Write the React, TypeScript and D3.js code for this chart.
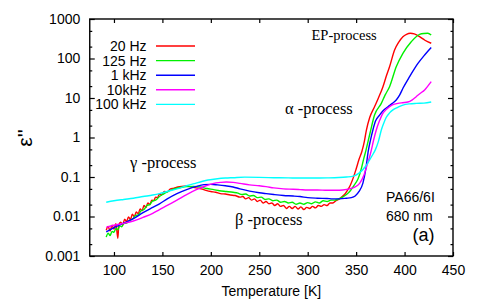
import React, { useEffect, useRef } from 'react';
import * as d3 from 'd3';

// temperature [K], eps''
const red20Hz: [number, number][] = [
  [92, 0.0045], [94, 0.0056], [96, 0.0043], [98, 0.006], [100, 0.0048], [102, 0.0066], [104, 0.0028], [105, 0.0062],
  [107, 0.0072], [109, 0.006], [111, 0.0086], [113, 0.0074], [115, 0.0098], [117, 0.0084], [119, 0.0115], [121, 0.0098],
  [123, 0.013], [125, 0.0118], [127, 0.0155], [129, 0.014], [131, 0.019], [133, 0.017], [135, 0.022], [137, 0.02],
  [139, 0.026], [141, 0.025], [143, 0.031], [145, 0.03], [147, 0.037], [149, 0.035], [152, 0.043], [155, 0.042],
  [158, 0.049], [162, 0.052], [166, 0.056], [170, 0.058], [175, 0.059], [180, 0.056], [185, 0.053], [190, 0.05],
  [195, 0.046], [200, 0.043], [205, 0.041], [210, 0.038], [215, 0.037], [220, 0.035], [225, 0.034], [230, 0.031],
  [233, 0.032], [236, 0.028], [239, 0.03], [242, 0.026], [245, 0.028], [248, 0.024], [251, 0.026], [254, 0.022],
  [257, 0.024], [260, 0.021], [263, 0.022], [266, 0.019], [269, 0.021], [272, 0.018], [275, 0.019], [278, 0.016],
  [281, 0.018], [284, 0.016], [287, 0.018], [290, 0.0155], [293, 0.0175], [296, 0.015], [299, 0.017], [302, 0.016],
  [305, 0.018], [308, 0.0165], [311, 0.019], [314, 0.018], [317, 0.02], [320, 0.019], [323, 0.022], [326, 0.022],
  [329, 0.025], [332, 0.027], [335, 0.031], [338, 0.036], [341, 0.046], [344, 0.062], [347, 0.095], [350, 0.16],
  [353, 0.28], [356, 0.45], [358.5, 0.8], [360.5, 1.5], [364, 3.2], [369, 6], [373, 10], [377.6, 19], [381, 35],
  [384.5, 62], [389.7, 164], [394, 260], [398.3, 357], [402, 410], [406, 434], [410, 420], [415.5, 357], [421, 290],
  [427.5, 243],
];

const green125Hz: [number, number][] = [
  [92, 0.003], [94, 0.0038], [96, 0.0033], [98, 0.0042], [100, 0.004], [102, 0.005], [104, 0.0046], [106, 0.0058],
  [108, 0.0055], [110, 0.0066], [113, 0.0068], [116, 0.008], [119, 0.0085], [122, 0.0105], [125, 0.011], [128, 0.014],
  [131, 0.015], [134, 0.019], [137, 0.02], [140, 0.025], [143, 0.026], [147, 0.032], [151, 0.037], [155, 0.042],
  [160, 0.048], [165, 0.052], [170, 0.055], [175, 0.057], [182, 0.058], [189, 0.056], [196, 0.051], [203, 0.048],
  [209, 0.045], [216, 0.043], [223, 0.041], [228, 0.039], [232, 0.036], [236, 0.037], [240, 0.033], [244, 0.034],
  [248, 0.03], [252, 0.031], [256, 0.027], [260, 0.028], [264, 0.025], [268, 0.026], [272, 0.023], [276, 0.024],
  [280, 0.022], [284, 0.023], [288, 0.0205], [292, 0.022], [296, 0.0205], [300, 0.0225], [304, 0.021], [308, 0.0235],
  [312, 0.022], [316, 0.025], [320, 0.024], [324, 0.026], [328, 0.026], [332, 0.028], [336, 0.031], [340, 0.036],
  [344, 0.045], [348, 0.062], [352, 0.09], [355, 0.15], [358, 0.3], [360.2, 0.48], [364.3, 1.28], [369, 3.7],
  [376, 7.3], [380, 12], [384.5, 19.3], [391.4, 62], [398.3, 135], [406.9, 266], [415.5, 410], [420, 430],
  [424, 434], [427.5, 393],
];

const blue1kHz: [number, number][] = [
  [92, 0.0041], [100, 0.0052], [110, 0.0068], [120, 0.0088], [130, 0.0125], [140, 0.017], [147, 0.021], [155, 0.028],
  [165, 0.038], [175, 0.048], [185, 0.058], [193, 0.064], [200, 0.065], [207, 0.063], [215, 0.06], [223, 0.056],
  [230, 0.05], [240, 0.044], [250, 0.04], [257, 0.038], [265, 0.036], [275, 0.034], [285, 0.033], [292, 0.032],
  [300, 0.03], [310, 0.029], [320, 0.0285], [326, 0.028], [333, 0.028], [340, 0.029], [345, 0.03], [349, 0.033],
  [353, 0.043], [357, 0.07], [360, 0.16], [362.5, 0.45], [365, 0.9], [367.3, 1.55], [370, 2.6], [374.2, 3.7],
  [378, 4.8], [382.8, 6], [387, 7.2], [391.4, 8.9], [395, 12], [398.3, 17.6], [405.2, 34.7], [413.8, 75],
  [420.7, 123], [427.5, 190],
];

const magenta10kHz: [number, number][] = [
  [92, 0.0053], [100, 0.006], [110, 0.0067], [120, 0.0077], [130, 0.0095], [140, 0.012], [147, 0.015], [155, 0.019],
  [165, 0.026], [175, 0.036], [185, 0.048], [195, 0.06], [202, 0.068], [210, 0.073], [216, 0.075], [223, 0.073],
  [230, 0.069], [240, 0.063], [250, 0.06], [257, 0.057], [265, 0.053], [275, 0.05], [285, 0.049], [292, 0.048],
  [300, 0.047], [310, 0.047], [320, 0.046], [330, 0.046], [336, 0.047], [343, 0.05], [348, 0.055], [353.6, 0.069],
  [358, 0.11], [361, 0.19], [364, 0.33], [365.7, 0.48], [368, 0.85], [370.8, 1.55], [374, 2.6], [377.6, 4.1],
  [381, 5.1], [384.5, 6], [388, 6.8], [393.1, 7.3], [398, 7.6], [403.4, 7.9], [408, 9], [412, 10.8], [416, 13],
  [420.7, 16], [424, 20], [427.5, 25.9],
];

const cyan100kHz: [number, number][] = [
  [92, 0.023], [100, 0.025], [110, 0.027], [120, 0.029], [130, 0.032], [140, 0.035], [147, 0.038], [155, 0.043],
  [165, 0.05], [175, 0.06], [183, 0.068], [190, 0.076], [197, 0.084], [205, 0.089], [215, 0.094], [223, 0.096],
  [235, 0.099], [250, 0.098], [265, 0.096], [280, 0.095], [292, 0.094], [305, 0.094], [320, 0.095], [332, 0.097],
  [340, 0.1], [347, 0.105], [353, 0.125], [360, 0.19], [366, 0.33], [370, 0.5], [373, 0.8], [376, 1.55], [378.5, 2.3],
  [381, 3.2], [384.5, 4.2], [388, 5], [393, 5.8], [398.3, 6.6], [405, 7.1], [412, 7.3], [420, 7.4], [427.5, 7.9],
];

const seriesNames = ['20 Hz', '125 Hz', '1 kHz', '10kHz', '100 kHz'];
const seriesColors = ['#ff0000', '#00f000', '#0000ff', '#ff00ff', '#00ffff'];
const seriesData = [red20Hz, green125Hz, blue1kHz, magenta10kHz, cyan100kHz];

const xTicks = [100, 150, 200, 250, 300, 350, 400, 450];
const yTicks = [0.001, 0.01, 0.1, 1, 10, 100, 1000];
const yTickLabels = ['0.001', '0.01', '0.1', '1', '10', '100', '1000'];
const yMinorFactors = [2, 5];

const SANS = '"Liberation Sans", Arial, Helvetica, sans-serif';
const SERIF = '"Liberation Serif", "Times New Roman", serif';

const App: React.FC = () => {
  const ref = useRef<SVGSVGElement>(null);
  const svgWidth = 480, svgHeight = 303;

  useEffect(() => {
    if (!ref.current) return;
    const svg = d3.select(ref.current);
    svg.selectAll('*').remove();

    const left = 89.75, right = 453, top = 19, bottom = 256;
    const x = d3.scaleLinear().domain([75, 450]).range([left, right]);
    const y = d3.scaleLog().domain([0.001, 1000]).range([bottom, top]);

    const yMinor: number[] = [];
    yTicks.slice(0, -1).forEach(t => yMinorFactors.forEach(f => yMinor.push(t * f)));

    // data lines
    const line = d3.line<[number, number]>()
      .x(d => x(d[0]))
      .y(d => y(d[1]))
      .curve(d3.curveMonotoneX);

    seriesData.forEach((s, i) => {
      svg.append('path')
        .datum(s)
        .attr('d', line)
        .attr('fill', 'none')
        .attr('stroke', seriesColors[i])
        .attr('stroke-width', 1.4);
    });

    // axes (ticks pointing inward)
    const styleAxis = (g: any) => {
      g.select('.domain').remove();
      g.selectAll('.tick line').attr('stroke', '#000').attr('stroke-width', 1.2);
      g.selectAll('.tick text').attr('fill', '#000').style('font-family', SANS).style('font-size', '14px');
    };

    svg.append('g').attr('transform', `translate(0,${bottom})`)
      .call(d3.axisBottom(x).tickValues(xTicks).tickSize(-4).tickPadding(9).tickFormat(d3.format('d')) as any)
      .call(styleAxis);
    svg.append('g').attr('transform', `translate(0,${top})`)
      .call(d3.axisTop(x).tickValues(xTicks).tickSize(-4).tickFormat(() => '') as any)
      .call(styleAxis);
    svg.append('g').attr('transform', `translate(${left},0)`)
      .call(d3.axisLeft(y).tickValues(yTicks).tickSize(-5).tickPadding(9.5)
        .tickFormat((_d: any, i: number) => yTickLabels[i]) as any)
      .call(styleAxis);
    svg.append('g').attr('transform', `translate(${right},0)`)
      .call(d3.axisRight(y).tickValues(yTicks).tickSize(-5).tickFormat(() => '') as any)
      .call(styleAxis);
    svg.append('g').attr('transform', `translate(${left},0)`)
      .call(d3.axisLeft(y).tickValues(yMinor).tickSize(-2.5).tickFormat(() => '') as any)
      .call(styleAxis);
    svg.append('g').attr('transform', `translate(${right},0)`)
      .call(d3.axisRight(y).tickValues(yMinor).tickSize(-2.5).tickFormat(() => '') as any)
      .call(styleAxis);

    svg.append('rect')
      .attr('x', left).attr('y', top)
      .attr('width', right - left).attr('height', bottom - top)
      .attr('fill', 'none').attr('stroke', '#000').attr('stroke-width', 1.4);

    // axis titles
    svg.append('text')
      .attr('x', (left + right) / 2).attr('y', 296)
      .attr('text-anchor', 'middle')
      .style('font-family', SANS).style('font-size', '14px')
      .text('Temperature [K]');
    svg.append('text')
      .attr('transform', 'translate(32,138) rotate(-90)')
      .attr('text-anchor', 'middle')
      .style('font-family', SANS).style('font-size', '21px')
      .text("ε''");

    // legend
    seriesNames.forEach((name, i) => {
      const ly = 46 + i * 14.6;
      svg.append('text')
        .attr('x', 146.5).attr('y', ly + 5)
        .attr('text-anchor', 'end')
        .style('font-family', SANS).style('font-size', '14px')
        .text(name);
      svg.append('line')
        .attr('x1', 156).attr('x2', 195).attr('y1', ly).attr('y2', ly)
        .attr('stroke', seriesColors[i]).attr('stroke-width', 1.4);
    });

    // annotations
    const notes: [string, number, number, number][] = [
      ['EP-process', 311.5, 39.5, 14.5],
      ['α -process', 285, 114, 16.5],
      ['γ -process', 130, 168, 16.5],
      ['β -process', 235, 225, 16.5],
    ];
    notes.forEach(([t, nx, ny, fs]) => {
      svg.append('text')
        .attr('x', nx).attr('y', ny)
        .style('font-family', SERIF).style('font-size', `${fs}px`)
        .text(t);
    });

    svg.append('text').attr('x', 386).attr('y', 201.5)
      .style('font-family', SANS).style('font-size', '14px').text('PA66/6I');
    svg.append('text').attr('x', 386).attr('y', 220.5)
      .style('font-family', SANS).style('font-size', '14px').text('680 nm');
    svg.append('text').attr('x', 412.5).attr('y', 241)
      .style('font-family', SANS).style('font-size', '18px').text('(a)');
  }, []);

  return (
    <svg ref={ref} width={svgWidth} height={svgHeight}
      style={{ position: 'absolute', left: 0, top: 0, background: '#fff' }} />
  );
};

export default App;
